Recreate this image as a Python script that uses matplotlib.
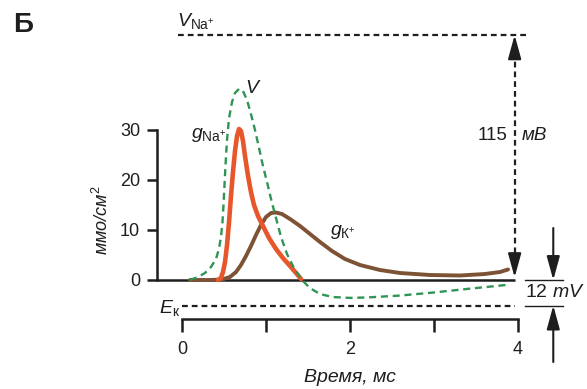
import numpy as np
import matplotlib
matplotlib.use('Agg')
import matplotlib.pyplot as plt

plt.rcParams['font.family'] = ['Liberation Sans', 'DejaVu Sans']
plt.rcParams['mathtext.fontset'] = 'custom'
plt.rcParams['mathtext.rm'] = 'Liberation Sans'
plt.rcParams['mathtext.it'] = 'Liberation Sans:italic'

## Data (time in ms)
# sodium conductance, mmho/cm2
t_na = [0.429, 0.464, 0.488, 0.512, 0.536, 0.56, 0.583, 0.607, 0.631, 0.655,
        0.679, 0.702, 0.726, 0.75, 0.786, 0.821, 0.857, 0.905, 0.964, 1.036,
        1.119, 1.202, 1.286, 1.357, 1.417]
g_na = [0, 0.4, 1.6, 3.6, 7, 11.6, 16.8, 21.6, 25.8, 28.8,
        30.2, 29.8, 27.8, 24.8, 20.8, 17.6, 15, 12.8, 10.8, 8.4,
        6.2, 4.4, 2.8, 1.4, 0.2]

# potassium conductance, mmho/cm2
t_k = [0.095, 0.333, 0.476, 0.571, 0.643, 0.702, 0.762, 0.821, 0.881, 0.94,
       1.0, 1.06, 1.119, 1.19, 1.286, 1.405, 1.524, 1.643, 1.786, 1.94,
       2.119, 2.357, 2.595, 2.952, 3.31, 3.607, 3.786, 3.881]
g_k = [0, 0, 0.1, 0.6, 1.6, 3, 4.8, 6.8, 9, 11,
       12.6, 13.4, 13.5, 13.2, 12.2, 10.8, 9.2, 7.6, 5.8, 4.2,
       3, 2, 1.4, 1.0, 0.9, 1.2, 1.6, 2.1]

# membrane potential, mV relative to rest
t_v = [0.095, 0.19, 0.274, 0.345, 0.405, 0.44, 0.464, 0.482, 0.494, 0.506,
       0.518, 0.536, 0.56, 0.595, 0.631, 0.679, 0.726, 0.774, 0.821, 0.869,
       0.917, 0.964, 1.012, 1.06, 1.119, 1.179, 1.25, 1.333, 1.429, 1.524,
       1.643, 1.798, 2.0, 2.202, 2.595, 2.988, 3.393, 3.869]
v_mv = [0, 1.4, 3.3, 6.1, 9.9, 14.6, 20.2, 27.2, 35.2, 44.6,
        54, 65.7, 76, 83.5, 87.8, 89.7, 88.7, 84.5, 77.9, 70.4,
        62, 53.5, 46, 38, 29.1, 20.2, 12.2, 5.6, 0, -3.8,
        -6.6, -8.0, -8.4, -8.2, -7.3, -5.9, -4.2, -2.3]

V_NA = 115   # mV, sodium equilibrium potential above rest
E_K = -12    # mV, potassium equilibrium potential below rest

ink = '#1e1e1e'
c_na = '#e8572b'
c_k = '#7d5235'
c_v = '#2f9455'

fig = plt.figure(figsize=(5.87, 3.89), dpi=100)
ax = fig.add_axes([0, 0, 1, 1])
ax.set_xlim(-182 / 84, 405 / 84)
ax.set_ylim(-109 / 5, 280 / 5)
ax.patch.set_visible(False)

# potential axis sharing time, scaled so that V_NA sits at 49 units
ax2 = ax.twinx()
k = V_NA / 49.0
lo, hi = ax.get_ylim()
ax2.set_ylim(lo * k, hi * k)
ax2.axis('off')

## Axes styling
for s in ['top', 'right']:
    ax.spines[s].set_visible(False)
ax.spines['left'].set_position(('data', -0.3))
ax.spines['left'].set_bounds(0, 30)
ax.spines['bottom'].set_position(('data', -7.8))
ax.spines['bottom'].set_bounds(0, 4)
for s in ['left', 'bottom']:
    ax.spines[s].set_linewidth(1.8)
    ax.spines[s].set_color(ink)
ax.set_yticks([0, 10, 20, 30])
ax.set_xticks([0, 1, 2, 3, 4])
ax.set_xticklabels(['0', '', '2', '', '4'])
ax.tick_params(axis='y', length=7, width=1.8, pad=5, labelsize=13, colors=ink)
ax.tick_params(axis='x', length=9.5, width=1.8, pad=6, labelsize=13, colors=ink)

ax.text(-0.95, 12, 'ммо/см$^{2}$', rotation=90, ha='center', va='center',
        fontsize=13, style='italic', color=ink)
ax.text(2.0, -19.6, 'Время, мс', ha='center', va='center', fontsize=14,
        style='italic', color=ink)

# baseline
ax.plot([-0.3, 3.96], [0, 0], color=ink, lw=1.8, solid_capstyle='butt')

## Curves
ax2.plot(t_v, v_mv, color=c_v, lw=1.7, linestyle=(0, (3, 2)))
ax.plot(t_k, g_k, color=c_k, lw=2.8, solid_capstyle='round',
        solid_joinstyle='round')
ax.plot(t_na, g_na, color=c_na, lw=3.3, solid_capstyle='round',
        solid_joinstyle='round')

## Reference potentials
dash = (0, (2.6, 1.8))
ax2.plot([-0.05, 4.14], [V_NA, V_NA], color=ink, lw=1.6, linestyle=dash)
ax2.plot([0, 3.96], [E_K, E_K], color=ink, lw=1.6, linestyle=dash)
ax2.text(-0.06, V_NA + 2, r'$V_{\mathrm{Na}^{+}}$', ha='left', va='bottom',
         fontsize=14, color=ink)
ax2.text(-0.02, E_K - 1, r'$E_{\mathrm{к}}$', ha='right', va='center',
         fontsize=14, color=ink)

# 115 mV double arrow
ax2.plot([3.96, 3.96], [8, V_NA - 8], color=ink, lw=1.6, linestyle=dash)
head = dict(arrowstyle='-|>,head_length=0.8,head_width=0.22', color=ink,
            lw=1.6, shrinkA=0, shrinkB=0, mutation_scale=18)
ax2.annotate('', xy=(3.96, V_NA), xytext=(3.96, V_NA - 10), arrowprops=head)
ax2.annotate('', xy=(3.96, 1.2), xytext=(3.96, 11), arrowprops=head)
ax2.text(3.88, 68, '115', ha='right', va='center', fontsize=13.5, color=ink)
ax2.text(4.04, 68, 'мВ', ha='left', va='center', fontsize=13.5,
         style='italic', color=ink)

# 12 mV bracket
ax2.plot([4.08, 4.54], [0, 0], color=ink, lw=1.0)
ax2.plot([4.08, 4.54], [E_K, E_K], color=ink, lw=1.0)
ax2.text(4.08, E_K / 2, r'12 $m$$V$', ha='left', va='center', fontsize=14,
         color=ink)
thin = dict(arrowstyle='-|>,head_length=0.8,head_width=0.22', color=ink,
            lw=1.5, shrinkA=0, shrinkB=0, mutation_scale=18)
ax2.annotate('', xy=(4.42, 0), xytext=(4.42, 24.4), arrowprops=thin)
ax2.annotate('', xy=(4.42, E_K), xytext=(4.42, -38.5), arrowprops=thin)

## Curve labels
ax2.text(0.75, 90, '$V$', ha='left', va='center', fontsize=14, color=ink)
ax.text(0.11, 29, r'$g_{\mathrm{Na}^{+}}$', ha='left', va='center',
        fontsize=14, color=ink)
ax.text(1.76, 9.6, r'$g_{\mathrm{К}^{+}}$', ha='left', va='center',
        fontsize=14, color=ink)

fig.text(13 / 587, 1 - 25 / 389, 'Б', fontsize=20, fontweight='bold',
         ha='left', va='center', color=ink)

fig.savefig('out.png', dpi=100)
